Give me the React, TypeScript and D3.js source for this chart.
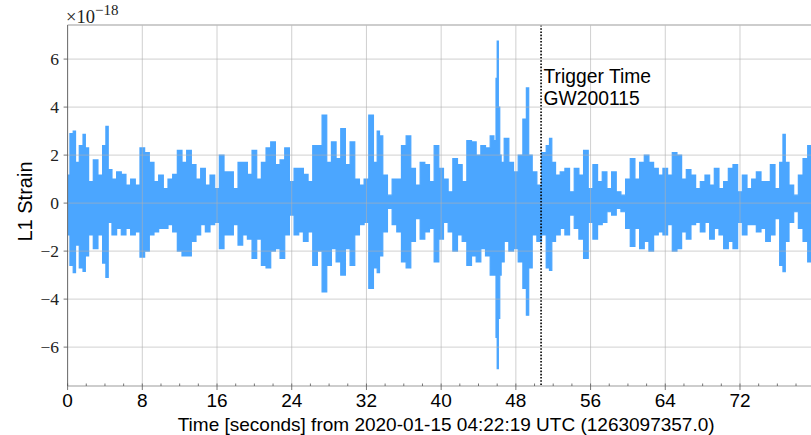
import React from "react";
import * as d3 from "d3";

// L1 strain envelope (units of 1e-18), sampled along time in seconds
const times = [
  0, 0.5, 0.7, 1.0, 1.5, 1.8, 2.0, 2.5, 3.0, 3.5, 4.0, 4.2, 4.5, 5.0, 5.5, 6.0, 6.5, 7.0, 7.5,
  8.0, 8.5, 9.0, 9.5, 10, 10.5, 11, 11.5, 12, 12.5, 13, 13.5, 14, 14.5, 15, 15.5,
  16, 16.5, 17, 17.5, 18, 18.5, 19, 19.5, 20, 20.5, 21, 21.5, 22, 22.5, 23, 23.5,
  24, 24.5, 25, 25.5, 26, 26.5, 27, 27.5, 28, 28.5, 29, 29.5, 30, 30.5, 31, 31.5,
  32, 32.5, 33, 33.3, 33.5, 34, 34.5, 35, 35.5, 36, 36.5, 37, 37.5, 38, 38.5, 39, 39.5,
  40, 40.5, 41, 41.5, 42, 42.5, 43, 43.5, 44, 44.5, 45, 45.5, 45.8, 45.95, 46.05, 46.2, 46.35,
  46.5, 47, 47.5, 48, 48.5, 49, 49.25, 49.5, 50, 50.5, 51, 51.5, 51.7, 52, 52.5, 53, 53.5,
  54, 54.5, 55, 55.5, 56, 56.5, 57, 57.5, 58, 58.5, 59, 59.5, 60, 60.5, 61, 61.5, 62, 62.5,
  63, 63.5, 64, 64.5, 65, 65.5, 66, 66.5, 67, 67.5, 68, 68.5, 69, 69.5, 70, 70.5, 71, 71.5,
  72, 72.5, 73, 73.5, 74, 74.5, 75, 75.5, 76, 76.5, 76.7, 77, 77.5, 78, 78.5, 79, 79.5, 80,
];
const upper = [
  1.17, 2.9, 3.0, 1.7, 2.4, 2.86, 2.3, 0.9, 1.8, 1.17, 2.4, 3.2, 1.4, 1.0, 1.3, 1.2, 0.75, 1.0, 0.75,
  2.3, 2.1, 1.7, 0.9, 1.17, 0.6, 1.0, 1.2, 2.2, 1.7, 2.2, 1.6, 1.0, 1.45, 0.75, 1.17,
  0.6, 2.0, 1.3, 1.3, 0.6, 1.7, 1.7, 1.2, 2.2, 1.0, 1.7, 2.3, 2.55, 1.6, 1.8, 2.3,
  0.9, 1.45, 1.45, 1.2, 0.9, 2.4, 2.4, 3.67, 1.7, 2.55, 1.85, 3.1, 1.6, 2.55, 1.0, 0.75,
  1.0, 3.67, 1.7, 3.0, 2.8, 1.17, 0.33, 1.0, 1.0, 2.4, 2.8, 1.45, 0.75, 1.7, 1.6, 0.9, 2.4,
  1.45, 1.0, 0.47, 1.85, 1.6, 0.9, 2.6, 2.55, 2.0, 2.4, 2.3, 2.8, 2.6, 5.2, 6.75, 4.0, 2.0,
  1.7, 2.7, 1.7, 1.3, 2.0, 3.5, 4.8, 2.0, 1.3, 0.75, 2.1, 2.4, 2.7, 1.7, 1.17, 1.3, 1.45,
  0.47, 1.45, 1.17, 2.2, 0.6, 1.6, 0.9, 1.3, 0.6, 1.3, 0.47, 0.33, 1.0, 1.85, 1.0, 1.7, 2.0, 1.7,
  1.45, 1.17, 1.45, 1.17, 2.1, 2.0, 1.0, 1.4, 1.17, 0.6, 0.9, 1.17, 0.75, 1.45, 0.6, 0.9, 1.45, 1.6,
  0.47, 1.17, 0.6, 1.0, 1.3, 0.9, 0.9, 1.6, 0.6, 1.7, 2.86, 1.7, 0.75, 0.33, 1.17, 1.85, 2.4, 2.4,
];
const lower = [
  -1.33, -2.6, -2.9, -1.75, -2.7, -2.85, -2.2, -1.33, -1.9, -1.33, -2.5, -3.1, -0.8, -1.33, -1.05, -1.33, -1.05, -1.33, -1.2,
  -2.25, -2.0, -1.33, -1.2, -1.05, -1.05, -0.9, -1.2, -2.0, -2.2, -2.2, -1.6, -1.33, -0.9, -1.2, -0.9,
  -0.8, -1.9, -1.33, -1.33, -0.9, -1.75, -1.33, -1.5, -2.3, -1.5, -2.6, -2.7, -2.0, -1.9, -2.3, -1.33,
  -0.5, -1.33, -1.2, -1.6, -1.2, -2.6, -2.0, -3.7, -2.6, -1.9, -2.45, -3.0, -1.9, -2.6, -1.33, -0.9,
  -0.8, -3.55, -2.7, -2.9, -2.2, -1.2, -0.22, -0.9, -1.2, -2.45, -2.7, -1.6, -0.65, -1.5, -1.2, -1.05, -2.45,
  -1.5, -0.8, -1.2, -2.0, -1.33, -1.6, -2.6, -2.2, -2.45, -1.9, -2.2, -3.0, -3.0, -5.6, -6.9, -4.8, -3.0,
  -2.45, -1.6, -2.0, -1.9, -2.45, -3.55, -4.67, -2.7, -1.33, -1.6, -1.33, -2.7, -2.8, -1.6, -1.33, -1.05, -1.33,
  -0.5, -1.05, -1.5, -2.3, -0.8, -1.5, -0.9, -0.8, -0.36, -0.5, -0.22, -0.36, -1.05, -1.8, -1.05, -1.9, -1.6, -2.0,
  -1.33, -1.2, -1.33, -0.9, -2.0, -1.9, -1.2, -1.5, -0.9, -0.8, -1.2, -0.8, -1.5, -1.05, -1.33, -1.9, -1.6, -1.9,
  -0.8, -1.33, -0.9, -0.9, -1.2, -1.05, -1.6, -1.33, -0.65, -2.6, -2.86, -1.6, -0.8, -0.36, -1.05, -1.6, -2.45, -2.45,
];

const xTicks = [0, 8, 16, 24, 32, 40, 48, 56, 64, 72];
const xMinorTicks = d3.range(0, 81, 2);
const yTicks = [-6, -4, -2, 0, 2, 4, 6];
const triggerTime = 50.7;
const triggerLabel = ["Trigger Time", "GW200115"];
const xLabel = "Time [seconds] from 2020-01-15 04:22:19 UTC (1263097357.0)";
const yLabel = "L1 Strain";

const W = 811;
const H = 435;
const left = 67.6;
const right = 814.7;
const top = 25;
const bottom = 386;

const strainColor = "#4ba6ff";

export default function App() {
  const x = d3.scaleLinear().domain([0, 80]).range([left, right]);
  const y = d3.scaleLinear().domain([-7.62, 7.42]).range([bottom, top]);

  // step curve keeps the ragged, block-like edges of the dense oscillation
  const band = d3
    .area<number>()
    .x((_, i) => x(times[i]))
    .y0((_, i) => y(lower[i]))
    .y1((_, i) => y(upper[i]))
    .curve(d3.curveStep);
  const edge = d3
    .line<number>()
    .x((_, i) => x(times[i]))
    .y((d) => y(d))
    .curve(d3.curveStep);

  const serif = "'Liberation Serif', 'DejaVu Serif', serif";
  const sans = "'Liberation Sans', Arial, sans-serif";

  return (
    <svg
      width={W}
      height={H}
      style={{ position: "absolute", left: 0, top: 0, background: "#fff" }}
    >
      <defs>
        <clipPath id="plot-clip">
          <rect x={left} y={top} width={right - left} height={bottom - top} />
        </clipPath>
      </defs>

      {/* strain band */}
      <g clipPath="url(#plot-clip)">
        <path d={band(times) ?? ""} fill={strainColor} stroke="none" />
        <path d={edge(upper) ?? ""} fill="none" stroke={strainColor} strokeWidth={1.2} />
        <path d={edge(lower) ?? ""} fill="none" stroke={strainColor} strokeWidth={1.2} />
      </g>

      {/* grid */}
      <g stroke="#b0b0b0" strokeOpacity={0.6} strokeWidth={1}>
        {xTicks.map((t) => (
          <line key={`gx${t}`} x1={x(t)} x2={x(t)} y1={top} y2={bottom} />
        ))}
        {yTicks.map((v) => (
          <line key={`gy${v}`} x1={left} x2={right} y1={y(v)} y2={y(v)} />
        ))}
      </g>

      {/* trigger marker */}
      <line
        x1={x(triggerTime)}
        x2={x(triggerTime)}
        y1={top}
        y2={bottom}
        stroke="#000"
        strokeWidth={1.6}
        strokeDasharray="1.6 1.6"
      />
      {triggerLabel.map((s, i) => (
        <text
          key={s}
          x={x(triggerTime) + 2.5}
          y={83 + i * 21.5}
          fontFamily={sans}
          fontSize={19.3}
          fill="#000"
        >
          {s}
        </text>
      ))}

      {/* spines */}
      <line x1={left} x2={right} y1={top} y2={top} stroke="#bcbcbc" strokeWidth={1.6} />
      <line x1={left} x2={right} y1={bottom} y2={bottom} stroke="#bcbcbc" strokeWidth={1.6} />
      <line x1={left} x2={left} y1={top} y2={bottom} stroke="#6e6e6e" strokeWidth={1} />

      {/* ticks */}
      <g stroke="#555" strokeWidth={0.8}>
        {xMinorTicks.map((t) => (
          <line key={`mx${t}`} x1={x(t)} x2={x(t)} y1={bottom} y2={bottom - 2.5} />
        ))}
        {xTicks.map((t) => (
          <line key={`tx${t}`} x1={x(t)} x2={x(t)} y1={bottom} y2={bottom + 4} />
        ))}
        {yTicks.map((v) => (
          <line key={`ty${v}`} x1={left - 4} x2={left} y1={y(v)} y2={y(v)} />
        ))}
      </g>
      {xTicks.map((t) => (
        <text
          key={`lx${t}`}
          x={x(t)}
          y={407}
          textAnchor="middle"
          fontFamily={sans}
          fontSize={19}
          fill="#000"
        >
          {t}
        </text>
      ))}
      {yTicks.map((v) => (
        <text
          key={`ly${v}`}
          x={59}
          y={y(v)}
          dy="0.34em"
          textAnchor="end"
          fontFamily={serif}
          fontSize={17.5}
          fill="#222"
        >
          {v < 0 ? `\u2212${Math.abs(v)}` : `${v}`}
        </text>
      ))}

      {/* offset text */}
      <text x={66} y={23} fontFamily={serif} fontSize={18.5} fill="#222">
        ×10
        <tspan dy={-8} fontSize={15}>
          −18
        </tspan>
      </text>

      {/* axis labels */}
      <text
        x={(left + right) / 2 + 5}
        y={431}
        textAnchor="middle"
        fontFamily={sans}
        fontSize={19}
        fill="#000"
      >
        {xLabel}
      </text>
      <text
        transform={`translate(32, ${(top + bottom) / 2 - 4}) rotate(-90)`}
        textAnchor="middle"
        fontFamily={sans}
        fontSize={20}
        fill="#000"
      >
        {yLabel}
      </text>
    </svg>
  );
}
